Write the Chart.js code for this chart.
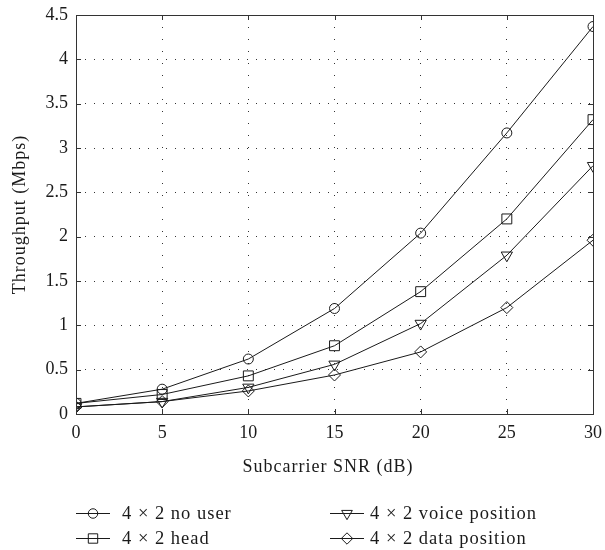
<!DOCTYPE html>
<html>
<head>
<meta charset="utf-8">
<script src="https://cdn.jsdelivr.net/npm/chart.js@4/dist/chart.umd.min.js"></script>
<style>
  html, body { margin: 0; padding: 0; background: #fff; }
  #wrap { width: 605px; height: 550px; position: relative; }
</style>
</head>
<body>
<div id="wrap"><canvas id="c" width="605" height="550"></canvas></div>
<script>
// Subcarrier SNR (dB)
const snr = [0, 5, 10, 15, 20, 25, 30];
// Throughput (Mbps) per configuration
const noUser   = [0.12, 0.28, 0.62, 1.19, 2.04, 3.17, 4.37];
const head     = [0.12, 0.22, 0.43, 0.77, 1.38, 2.20, 3.32];
const voicePos = [0.08, 0.14, 0.30, 0.56, 1.02, 1.79, 2.80];
const dataPos  = [0.08, 0.14, 0.26, 0.44, 0.70, 1.20, 1.96];

const seriesLabels = ['4 \u00d7 2 no user', '4 \u00d7 2 head', '4 \u00d7 2 voice position', '4 \u00d7 2 data position'];
const xTicks = [0, 5, 10, 15, 20, 25, 30];
const yTicks = [0, 0.5, 1, 1.5, 2, 2.5, 3, 3.5, 4, 4.5];
const xTitle = 'Subcarrier SNR (dB)';
const yTitle = 'Throughput (Mbps)';

const FONT = '"Liberation Serif", "DejaVu Serif", serif';
const INK = '#1a1a1a';

const markers = [
  { style: 'circle',   radius: 5,   rotation: 0 },
  { style: 'rect',     radius: 7,   rotation: 0 },
  { style: 'triangle', radius: 6.5, rotation: 180 },
  { style: 'rectRot',  radius: 6,   rotation: 0 }
];

function pts(ys) { return snr.map((x, i) => ({ x: x, y: ys[i] })); }

const datasets = [noUser, head, voicePos, dataPos].map((ys, i) => ({
  label: seriesLabels[i],
  data: pts(ys),
  borderColor: INK,
  borderWidth: 1,
  backgroundColor: 'rgba(0,0,0,0)',
  pointStyle: markers[i].style,
  pointRadius: markers[i].radius,
  pointRotation: markers[i].rotation,
  pointBorderColor: INK,
  pointBorderWidth: 1,
  pointBackgroundColor: 'rgba(0,0,0,0)',
  tension: 0,
  fill: false
}));

// Frame, inward tick marks, axis titles and two-column legend
const decor = {
  id: 'decor',
  afterDraw(chart) {
    const ctx = chart.ctx;
    const a = chart.chartArea;
    const xs = chart.scales.x, ys = chart.scales.y;
    ctx.save();
    ctx.strokeStyle = '#333';
    ctx.lineWidth = 1;
    ctx.strokeRect(Math.round(a.left) + 0.5, Math.round(a.top) + 0.5,
                   Math.round(a.right - a.left), Math.round(a.bottom - a.top));
    const tl = 5;
    ctx.beginPath();
    xTicks.forEach(v => {
      const px = Math.round(xs.getPixelForValue(v)) + 0.5;
      ctx.moveTo(px, a.bottom); ctx.lineTo(px, a.bottom - tl);
      ctx.moveTo(px, a.top); ctx.lineTo(px, a.top + tl);
    });
    yTicks.forEach(v => {
      const py = Math.round(ys.getPixelForValue(v)) + 0.5;
      ctx.moveTo(a.left, py); ctx.lineTo(a.left + tl, py);
      ctx.moveTo(a.right, py); ctx.lineTo(a.right - tl, py);
    });
    ctx.stroke();

    ctx.fillStyle = INK;
    ctx.font = '18px ' + FONT;
    ctx.letterSpacing = '1px';
    ctx.textAlign = 'center';
    ctx.textBaseline = 'middle';
    ctx.fillText(xTitle, 328, 467);

    ctx.save();
    ctx.translate(20, (a.top + a.bottom) / 2);
    ctx.rotate(-Math.PI / 2);
    ctx.fillText(yTitle, 0, 0);
    ctx.restore();

    // legend
    const cols = [{ x1: 76, x2: 110, tx: 122 }, { x1: 330, x2: 364, tx: 370 }];
    const rows = [513, 538];
    const order = [[0, 0, 0], [1, 0, 1], [2, 1, 0], [3, 1, 1]];
    ctx.textAlign = 'left';
    ctx.font = '18.5px ' + FONT;
    order.forEach(([di, c, r]) => {
      const col = cols[c], y = rows[r];
      ctx.strokeStyle = INK;
      ctx.lineWidth = 1;
      ctx.beginPath();
      ctx.moveTo(col.x1, y + 0.5); ctx.lineTo(col.x2, y + 0.5);
      ctx.stroke();
      const m = markers[di];
      ctx.fillStyle = 'rgba(0,0,0,0)';
      Chart.helpers.drawPoint(ctx, {
        pointStyle: m.style, radius: m.radius * 0.95, rotation: m.rotation, borderWidth: 1
      }, (col.x1 + col.x2) / 2, y + 0.5);
      ctx.fillStyle = INK;
      ctx.fillText(seriesLabels[di], col.tx, y + 1);
    });
    ctx.restore();
  }
};

const tickFont = { family: FONT, size: 18 };

new Chart(document.getElementById('c'), {
  type: 'line',
  data: { datasets: datasets },
  plugins: [decor],
  options: {
    responsive: false,
    animation: false,
    events: [],
    layout: { padding: { top: 15, right: 12, left: 0, bottom: 0 } },
    plugins: { legend: { display: false }, tooltip: { enabled: false }, title: { display: false } },
    scales: {
      x: {
        type: 'linear',
        min: 0, max: 30,
        afterBuildTicks(s) { s.ticks = xTicks.map(v => ({ value: v })); },
        afterFit(s) { s.height = 136; s.paddingRight = 0; s.paddingLeft = 0; },
        grid: { color: '#333', lineWidth: 1, drawTicks: false },
        border: { display: false, dash: [1, 11] },
        ticks: { color: INK, font: tickFont, padding: 8, maxRotation: 0, callback: v => String(v) }
      },
      y: {
        type: 'linear',
        min: 0, max: 4.5,
        afterBuildTicks(s) { s.ticks = yTicks.map(v => ({ value: v })); },
        afterFit(s) { s.width = 76; s.paddingTop = 0; s.paddingBottom = 0; },
        grid: { color: '#333', lineWidth: 1, drawTicks: false },
        border: { display: false, dash: [1, 8] },
        ticks: { color: INK, font: tickFont, padding: 8, callback: v => String(v) }
      }
    }
  }
});
</script>
</body>
</html>
